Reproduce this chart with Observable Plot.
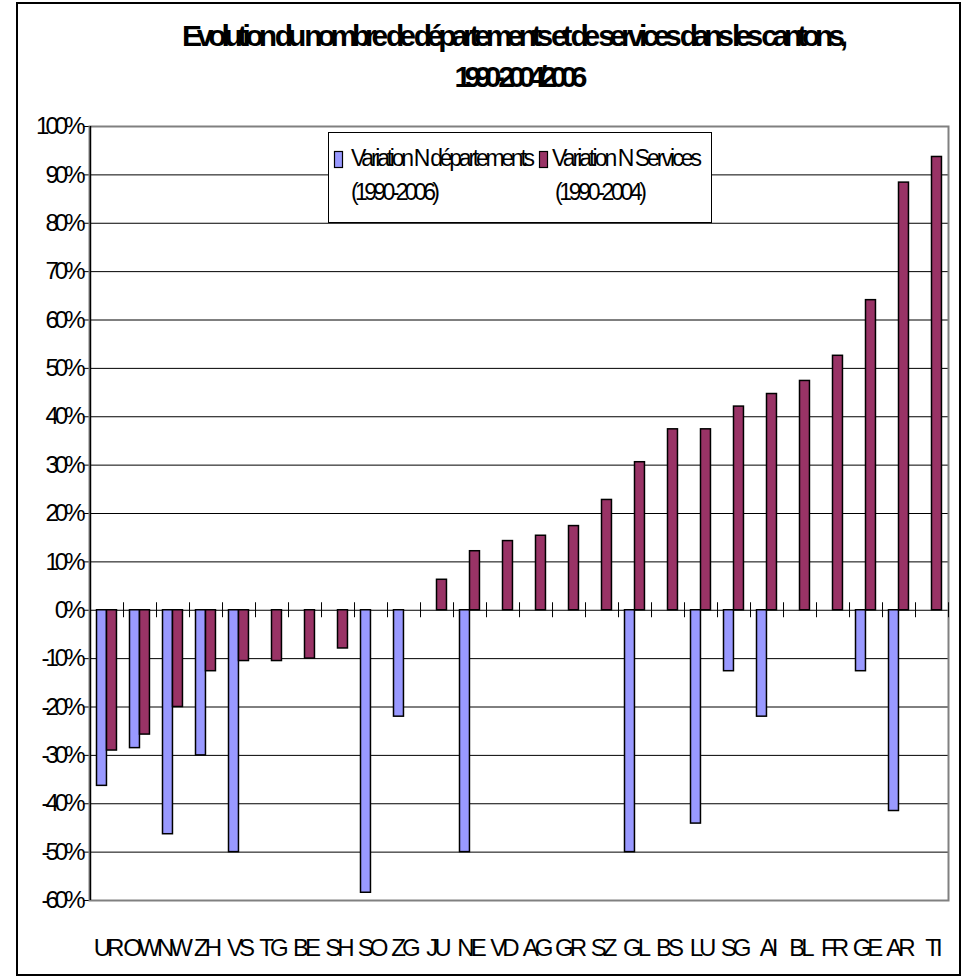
<!DOCTYPE html>
<html><head><meta charset="utf-8">
<script src="https://cdn.jsdelivr.net/npm/d3@7"></script>
<script src="https://cdn.jsdelivr.net/npm/@observablehq/plot@0.6"></script>
<style>
body{margin:0;background:#fff;width:962px;height:978px;overflow:hidden;position:relative;font-family:"Liberation Sans",Arial,sans-serif}
#frame{position:absolute;left:16px;top:2px;width:945px;height:974px;border:2px solid #000;box-sizing:border-box}
#title{position:absolute;left:0;top:0}
#chart{position:absolute;left:0;top:100px}
#legend{position:absolute;left:0;top:0}
</style></head><body>
<div id="frame"></div>
<svg id="title" width="962" height="100"></svg>
<div id="chart"></div>
<svg id="legend" width="962" height="240"></svg>
<script>
const titleLines = ["Evolution du nombre de départements et de services dans les cantons,", "1990-2004/2006"];
const cantons = ["UR","OW","NW","ZH","VS","TG","BE","SH","SO","ZG","JU","NE","VD","AG","GR","SZ","GL","BS","LU","SG","AI","BL","FR","GE","AR","TI"];
const depVariation = [-36.3,-28.5,-46.3,-30.0,-50.0,null,null,null,-58.4,-22.0,null,-50.0,null,null,null,null,-50.0,null,-44.1,-12.6,-22.0,null,null,-12.6,-41.5,null];
const servVariation = [-29.0,-25.7,-20.0,-12.6,-10.5,-10.5,-10.0,-7.9,null,null,6.3,12.2,14.3,15.4,17.4,22.8,30.6,37.4,37.4,42.1,44.7,47.4,52.6,64.1,88.4,93.7];
const seriesNames = ["Variation N départements", "Variation N Services"];
const seriesPeriods = ["(1990-2006)", "(1990-2004)"];
const seriesColors = ["#9999FF", "#993366"];
const yTicks = [-60,-50,-40,-30,-20,-10,0,10,20,30,40,50,60,70,80,90,100];

const NS = "http://www.w3.org/2000/svg";
function addText(svg, str, attrs) {
  const t = document.createElementNS(NS, "text");
  for (const k in attrs) t.setAttribute(k, attrs[k]);
  t.textContent = str;
  svg.appendChild(t);
  return t;
}
// title
const tsvg = document.getElementById("title");
addText(tsvg, titleLines[0], {x: 515, y: 46, "text-anchor": "middle", "font-size": 30, "font-weight": "bold", "font-family": "Liberation Sans, Arial", textLength: 666, lengthAdjust: "spacing"});
addText(tsvg, titleLines[1], {x: 521, y: 87, "text-anchor": "middle", "font-size": 30, "font-weight": "bold", "font-family": "Liberation Sans, Arial", textLength: 133, lengthAdjust: "spacing"});

// chart
const W = 962, H = 860, mL = 89, mR = 14, mT = 26, mB = 60;
const step = (W - mL - mR) / cantons.length;
const dep = cantons.map((c, i) => ({canton: c, value: depVariation[i]})).filter(d => d.value != null);
const serv = cantons.map((c, i) => ({canton: c, value: servVariation[i]})).filter(d => d.value != null);
const chart = Plot.plot({
  width: W, height: H, marginLeft: mL, marginRight: mR, marginTop: mT, marginBottom: mB,
  style: {fontFamily: "Liberation Sans, Arial", fontSize: "24px", letterSpacing: "-4px", color: "#000", background: "transparent", overflow: "visible"},
  x: {domain: cantons, padding: 0, label: null, tickSize: 0, tickPadding: 38},
  y: {domain: [-60, 100], ticks: yTicks, tickFormat: d => d + "%", label: null, tickSize: 5, tickPadding: 3},
  marks: [
    Plot.ruleY(yTicks.filter(t => t > -60 && t < 100), {stroke: "#000", strokeWidth: 1}),
    Plot.frame({stroke: "#808080", strokeWidth: 2}),
    Plot.ruleX([cantons[0]], {dx: -step / 2, stroke: "#000", strokeWidth: 1.5}),
    Plot.ruleX(cantons, {dx: step / 2, y1: -1.55, y2: 1.55, stroke: "#000", strokeWidth: 1}),
    Plot.barY(dep, {x: "canton", y: "value", fill: seriesColors[0], stroke: "#000", strokeWidth: 1.5, insetLeft: 6.5, insetRight: step - 16.5}),
    Plot.barY(serv, {x: "canton", y: "value", fill: seriesColors[1], stroke: "#000", strokeWidth: 1.5, insetLeft: 16.5, insetRight: step - 26.5})
  ]
});
document.getElementById("chart").appendChild(chart);

// legend
const lsvg = document.getElementById("legend");
const box = document.createElementNS(NS, "rect");
Object.entries({x: 328.5, y: 132.5, width: 383, height: 90, fill: "#fff", stroke: "#000", "stroke-width": 1}).forEach(([k, v]) => box.setAttribute(k, v));
lsvg.appendChild(box);
const legendX = [334, 539];
const textX = [351, 552];
const periodX = [351, 555];
const nameLen = [184, 150];
const periodLen = [89, 92];
seriesNames.forEach((name, i) => {
  const sw = document.createElementNS(NS, "rect");
  Object.entries({x: legendX[i] + 0.5, y: 151.5, width: 8, height: 16, fill: seriesColors[i], stroke: "#000", "stroke-width": 1.2}).forEach(([k, v]) => sw.setAttribute(k, v));
  lsvg.appendChild(sw);
  addText(lsvg, name, {x: textX[i], y: 166, "font-size": 23, "font-family": "Liberation Sans, Arial", textLength: nameLen[i], lengthAdjust: "spacing"});
  addText(lsvg, seriesPeriods[i], {x: periodX[i], y: 200, "font-size": 23, "font-family": "Liberation Sans, Arial", textLength: periodLen[i], lengthAdjust: "spacing"});
});
</script>
</body></html>
